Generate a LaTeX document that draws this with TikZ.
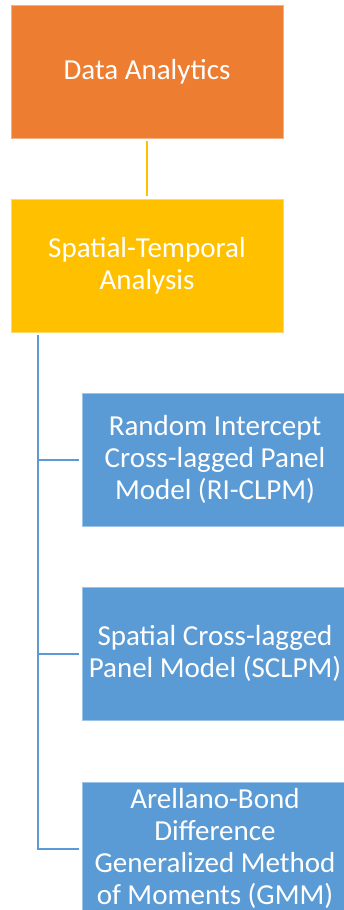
\documentclass[tikz,border=0pt]{standalone}
\usepackage{fontspec}
\setmainfont{Carlito}
\usetikzlibrary{calc}
\definecolor{offorange}{HTML}{ED7D31}
\definecolor{offgold}{HTML}{FFC000}
\definecolor{offblue}{HTML}{5B9BD5}
\tikzset{
  box/.style={rectangle, minimum height=133pt, inner sep=2pt,
    text=white, align=center, line width=0.8pt,
    font=\fontsize{29}{32}\selectfont},
  topbox/.style={box, minimum width=272pt, fill=offorange, draw=offorange!60!white},
  midbox/.style={box, minimum width=272pt, fill=offgold, draw=offgold!60!white},
  leafbox/.style={box, minimum width=266pt, fill=offblue, draw=offblue!60!white},
  goldlink/.style={draw=offgold, line width=2pt, shorten <=3pt, shorten >=3pt},
  bluelink/.style={draw=offblue, line width=2pt, shorten >=3pt},
}
\begin{document}
\begin{tikzpicture}[x=1pt, y=-1pt]
  \clip (0,0) rectangle (344,910);
  \fill[white] (0,0) rectangle (344,910);

  \node[topbox]  (da) at (147,71.5) {Data Analytics};
  \node[midbox]  (st) at (147,266)  {Spatial-Temporal\\Analysis};
  \node[leafbox] (ri) at (215,459.5) {Random Intercept\\Cross-lagged Panel\\Model (RI-CLPM)};
  \node[leafbox] (sc) at (215,653.5) {Spatial Cross-lagged\\Panel Model (SCLPM)};
  \node[leafbox] (ab) at (215,848.5) {Arellano-Bond\\Difference\\Generalized Method\\of Moments (GMM)};

  % link between the two upper levels
  \draw[goldlink] (da.south) -- (st.north);

  % trunk with branches to the three methods
  \coordinate (trunk) at ($(st.south west)+(27,2.5)$);
  \draw[bluelink, line cap=butt] (trunk) |- (ab.west);
  \draw[bluelink] (trunk |- ri.west) -- (ri.west);
  \draw[bluelink] (trunk |- sc.west) -- (sc.west);
\end{tikzpicture}
\end{document}
